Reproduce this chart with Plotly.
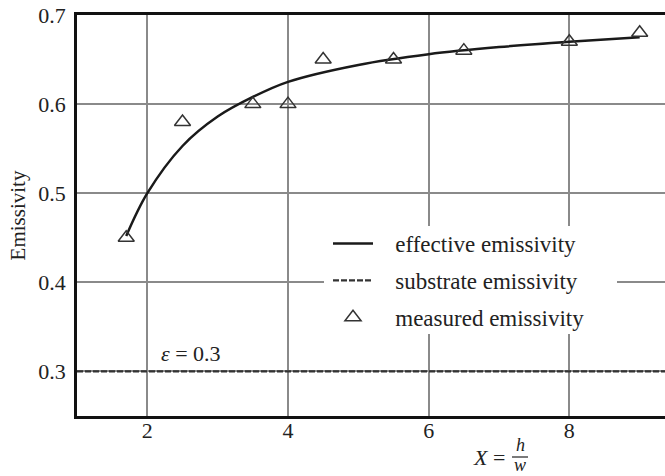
import plotly.graph_objects as go

# ---- data ----
curve_x = [1.7, 2.0, 2.5, 3.0, 3.5, 4.0, 5.0, 6.0, 7.0, 8.0, 9.0]
curve_y = [0.452, 0.500, 0.553, 0.586, 0.608, 0.625, 0.644, 0.656, 0.664, 0.670, 0.675]

meas_x = [1.7, 2.5, 3.5, 4.0, 4.5, 5.5, 6.5, 8.0, 9.0]
meas_y = [0.45, 0.58, 0.60, 0.60, 0.65, 0.65, 0.66, 0.67, 0.68]

substrate_x = [1.0, 9.36]
substrate_y = [0.3, 0.3]

x_ticks = [2, 4, 6, 8]
x_tick_labels = ["2", "4", "6", "8"]
y_ticks = [0.3, 0.4, 0.5, 0.6, 0.7]
y_tick_labels = ["0.3", "0.4", "0.5", "0.6", "0.7"]

FONT = "Liberation Serif"
W, H = 665, 476
ML, MR, MT, MB = 77, 0, 15, 60
PW, PH = W - ML - MR, H - MT - MB


def fx(px):  # reference pixel -> paper x
    return (px - ML) / PW


def fy(py):  # reference pixel -> paper y
    return (H - MB - py) / PH


NB = "\u00a0\u00a0\u00a0"

fig = go.Figure()

fig.add_trace(go.Scatter(
    x=curve_x, y=curve_y, mode="lines", name=NB + "effective emissivity",
    line=dict(color="#1a1a1a", width=2.5, shape="spline"),
    legendgroup="a",
))
fig.add_trace(go.Scatter(
    x=substrate_x, y=substrate_y, mode="lines", name=NB + "substrate emissivity",
    line=dict(color="#333333", width=2.2, dash="6px,2px"),
    legendgroup="b",
))
fig.add_trace(go.Scatter(
    x=meas_x, y=meas_y, mode="markers", name=NB + "measured emissivity",
    marker=dict(symbol="triangle-up-open", size=14, color="#333333",
                line=dict(width=1.5, color="#333333")),
    legendgroup="c",
))

# white background behind the legend (covers grid lines)
fig.add_shape(type="rect", xref="paper", yref="paper",
              x0=fx(324), x1=fx(617), y0=fy(334), y1=fy(226),
              fillcolor="white", line=dict(width=0), layer="above")

# fraction bar for the x-axis title
fig.add_shape(type="line", xref="paper", yref="paper",
              x0=fx(512), x1=fx(528), y0=fy(457), y1=fy(457),
              line=dict(color="#222222", width=1.2))

ann_font = dict(family=FONT, size=22, color="#222222")
frac_font = dict(family=FONT, size=18, color="#222222")
fig.add_annotation(text="<i>ε</i> = 0.3", x=2.62, y=0.32, xref="x", yref="y",
                   xanchor="center", yanchor="middle",
                   showarrow=False, font=ann_font)
fig.add_annotation(text="<i>X</i> =", x=fx(489), y=fy(458), xref="paper", yref="paper",
                   xanchor="center", yanchor="middle",
                   showarrow=False, font=ann_font)
fig.add_annotation(text="<i>h</i>", x=fx(520), y=fy(445), xref="paper", yref="paper",
                   xanchor="center", yanchor="middle", borderpad=0,
                   showarrow=False, font=frac_font)
fig.add_annotation(text="<i>w</i>", x=fx(520), y=fy(465), xref="paper", yref="paper",
                   xanchor="center", yanchor="middle", borderpad=0,
                   showarrow=False, font=frac_font)

fig.update_layout(
    width=W, height=H,
    margin=dict(l=ML, r=MR, t=MT, b=MB, autoexpand=False),
    paper_bgcolor="white", plot_bgcolor="white",
    font=dict(family=FONT, size=22, color="#222222"),
    showlegend=True,
    legend=dict(
        x=fx(328), y=fy(222), xanchor="left", yanchor="top",
        bgcolor="rgba(0,0,0,0)", borderwidth=0,
        font=dict(family=FONT, size=23, color="#222222"),
        traceorder="grouped", tracegroupgap=4, itemwidth=40,
    ),
    xaxis=dict(
        range=[1.0, 9.36], tickvals=x_ticks, ticktext=x_tick_labels,
        showgrid=True, gridcolor="#8a8a8a", gridwidth=2,
        showline=True, linecolor="#111111", linewidth=2.5, mirror=True,
        ticks="", ticklabelstandoff=-7, ticklabeloverflow="allow",
        automargin=False,
        zeroline=False, tickfont=dict(family=FONT, size=22, color="#222222"),
    ),
    yaxis=dict(
        range=[0.25, 0.7], tickvals=y_ticks, ticktext=y_tick_labels,
        showgrid=True, gridcolor="#8a8a8a", gridwidth=2,
        showline=True, linecolor="#111111", linewidth=2.5,
        ticks="outside", ticklen=4, tickcolor="rgba(0,0,0,0)",
        ticklabeloverflow="allow", automargin=False,
        zeroline=False, tickfont=dict(family=FONT, size=22, color="#222222"),
        title=dict(text="Emissivity", standoff=7,
                   font=dict(family=FONT, size=21, color="#222222")),
    ),
)

fig.write_html(
    "out.html",
    config={"displayModeBar": False},
    post_script="document.body.style.margin='0px';document.body.style.overflow='hidden';",
)
